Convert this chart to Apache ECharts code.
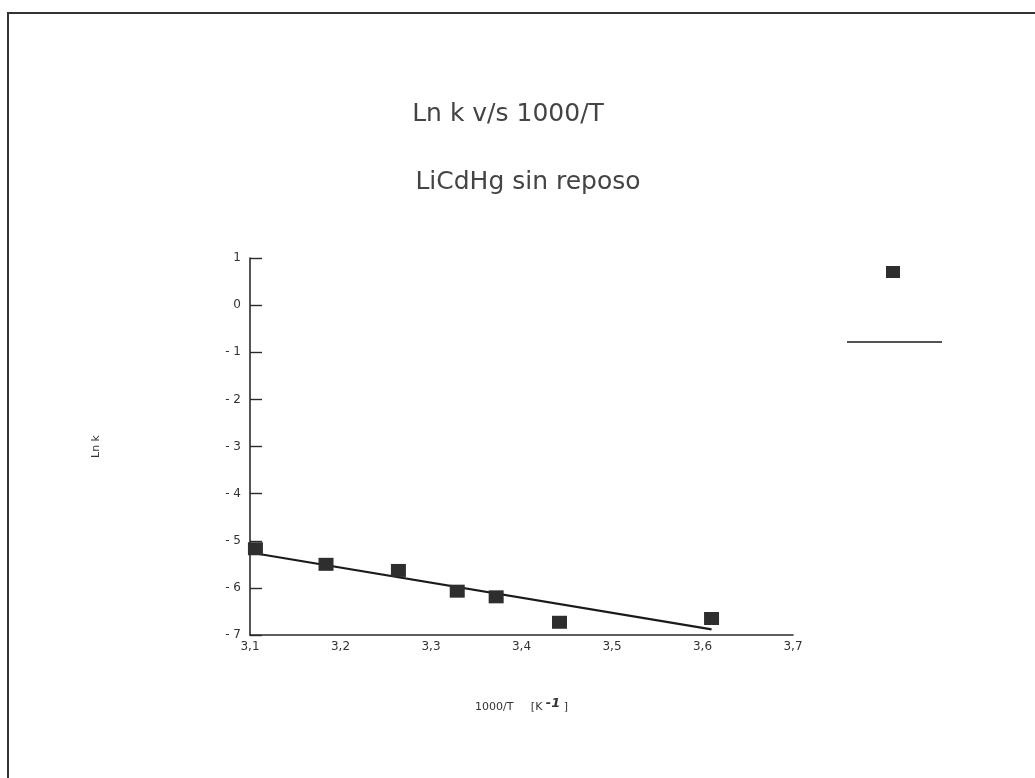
<!DOCTYPE html>
<html>
<head>
<meta charset="utf-8">
<title>Ln k v/s 1000/T</title>
<script src="https://cdn.jsdelivr.net/npm/echarts@6/dist/echarts.min.js"></script>
<style>
  html, body { margin: 0; padding: 0; background: #ffffff; }
  #chart { width: 1035px; height: 778px; }
</style>
</head>
<body>
<div id="chart"></div>
<script>
// Measured points: 1000/T [K^-1] and Ln k
const invTemp = [3.106, 3.184, 3.264, 3.329, 3.372, 3.442, 3.610];
const lnK     = [-5.17, -5.50, -5.63, -6.07, -6.19, -6.73, -6.65];

// Fitted straight line, drawn from its two end points
const fitX = [3.10, 3.61];
const fitY = [-5.25, -6.88];

// Axis ranges and tick steps
const xMin = 3.1, xMax = 3.7, xStep = 0.1;
const yMin = -7, yMax = 1, yStep = 1;

const titleText = 'Ln k v/s 1000/T';
const subtitleText = 'LiCdHg sin reposo';

const ink = '#2a2a2a';
const font = 'DejaVu Sans';

const points = invTemp.map((x, i) => [x, lnK[i]]);
const fitLine = fitX.map((x, i) => [x, fitY[i]]);

const chart = echarts.init(document.getElementById('chart'), null, { renderer: 'canvas' });

chart.setOption({
  backgroundColor: '#ffffff',
  animation: false,
  title: [
    {
      text: titleText,
      left: 503, top: 97, textAlign: 'center',
      textStyle: { fontFamily: font, fontSize: 25, fontWeight: 'normal', color: '#444' }
    },
    {
      text: subtitleText,
      left: 523, top: 165, textAlign: 'center',
      textStyle: { fontFamily: font, fontSize: 25, fontWeight: 'normal', color: '#444' }
    }
  ],
  grid: { left: 250, right: 242, top: 258, bottom: 143, containLabel: false },
  xAxis: {
    type: 'value',
    min: xMin, max: xMax, interval: xStep,
    name: '1000/T     [K {sup|-1} ]',
    nameLocation: 'middle',
    nameGap: 62,
    nameTextStyle: {
      fontFamily: font, fontSize: 11, color: '#333',
      rich: { sup: { fontFamily: font, fontSize: 13, fontStyle: 'italic', fontWeight: 'bold', color: '#333', verticalAlign: 'top', padding: [0, 0, 8, 0] } }
    },
    axisLine: { show: true, onZero: false, lineStyle: { color: ink, width: 1.6 } },
    axisTick: { show: false },
    splitLine: { show: false },
    axisLabel: {
      margin: 6,
      fontFamily: font, fontSize: 12, color: '#333',
      formatter: v => v.toFixed(1).replace('.', ',')
    }
  },
  yAxis: {
    type: 'value',
    min: yMin, max: yMax, interval: yStep,
    name: 'Ln k',
    nameLocation: 'middle',
    nameRotate: 90,
    nameGap: 148,
    nameTextStyle: { fontFamily: font, fontSize: 11, color: '#333' },
    axisLine: { show: true, onZero: false, lineStyle: { color: ink, width: 1.6 } },
    axisTick: { show: true, inside: true, length: 12, lineStyle: { color: ink, width: 1.4 } },
    splitLine: { show: false },
    axisLabel: {
      margin: 9,
      fontFamily: font, fontSize: 12, color: '#333',
      formatter: v => (v < 0 ? '- ' + Math.abs(v) : String(v))
    }
  },
  series: [
    {
      name: 'Ln k',
      type: 'scatter',
      data: points,
      symbol: 'rect',
      symbolSize: [15, 13],
      itemStyle: { color: '#2e2e2e', opacity: 1 },
      z: 3
    },
    {
      name: 'ajuste',
      type: 'line',
      data: fitLine,
      showSymbol: false,
      symbol: 'none',
      lineStyle: { color: '#1a1a1a', width: 2.2 },
      z: 2
    }
  ],
  graphic: [
    // page frame (top and left edges)
    {
      type: 'polyline',
      shape: { points: [[8, 778], [8, 13], [1035, 13]] },
      style: { stroke: '#333', lineWidth: 2, fill: null },
      silent: true
    },
    // legend keys: marker and fitted line
    {
      type: 'rect',
      shape: { x: 886, y: 266, width: 14, height: 12 },
      style: { fill: '#2e2e2e' },
      silent: true
    },
    {
      type: 'line',
      shape: { x1: 847, y1: 342, x2: 942, y2: 342 },
      style: { stroke: '#1a1a1a', lineWidth: 1.6 },
      silent: true
    }
  ]
});
</script>
</body>
</html>
